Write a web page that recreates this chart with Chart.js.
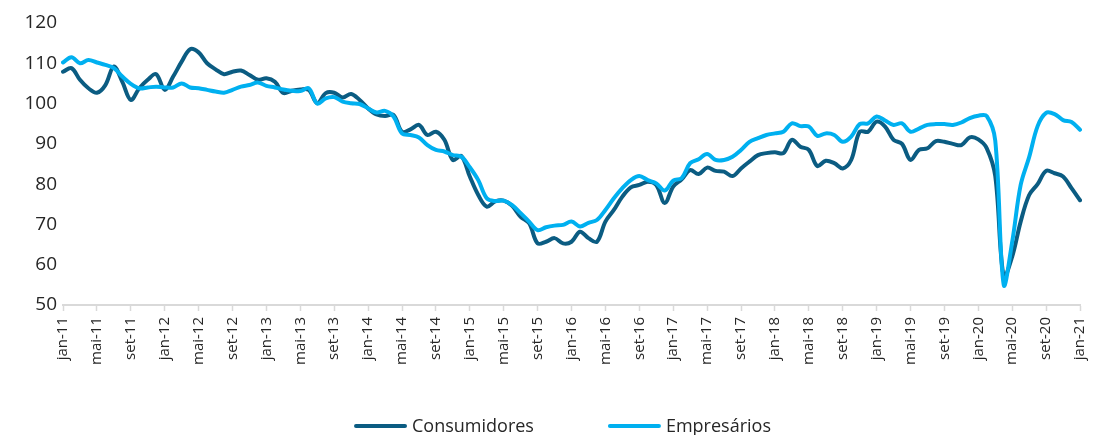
<!DOCTYPE html>
<html>
<head>
<meta charset="utf-8">
<script src="https://cdn.jsdelivr.net/npm/chart.js@4/dist/chart.umd.min.js"></script>
<style>
  html, body { margin: 0; padding: 0; background: #ffffff; }
  #wrap { width: 1093px; height: 435px; position: relative; }
</style>
</head>
<body>
<div id="wrap"><canvas id="c" width="1093" height="435"></canvas></div>
<script>
// ---- data ----
const monthNames = ['jan','fev','mar','abr','mai','jun','jul','ago','set','out','nov','dez'];
const years = ['11','12','13','14','15','16','17','18','19','20','21'];
const categories = [];
years.forEach(y => monthNames.forEach(m => { if (categories.length < 121) categories.push(m + '-' + y); }));

const seriesNames = ['Consumidores', 'Empresários'];

const consumidores = [
  107.9,108.8,105.9,103.8,102.7,104.6,109.2,105.4,100.9,103.8,105.9,107.3,
  103.4,106.7,110.4,113.5,112.7,110.0,108.5,107.3,107.9,108.2,107.1,105.9,
  106.3,105.4,102.6,103.2,103.5,103.4,100.1,102.6,102.7,101.5,102.4,100.9,
  98.8,97.3,96.9,97.2,93.0,93.6,94.7,92.2,93.0,91.0,86.0,87.0,
  81.9,77.3,74.4,75.7,75.9,74.6,71.9,70.3,65.3,65.7,66.6,65.3,
  65.7,68.2,66.6,65.7,70.7,73.6,76.9,79.2,79.8,80.6,79.8,75.3,
  79.4,81.2,83.5,82.5,84.1,83.3,83.1,82.0,83.9,85.6,87.2,87.7,
  87.9,87.7,91.0,89.3,88.5,84.5,85.8,85.2,83.9,86.0,93.0,93.0,
  95.5,94.3,91.0,90.0,86.0,88.5,88.9,90.7,90.5,90.0,89.7,91.6,
  91.1,88.9,82.0,57.0,62.0,70.7,77.3,80.0,83.3,82.7,81.9,79.0,
  76.0
];

const empresarios = [
  110.2,111.5,110.0,110.8,110.2,109.6,108.8,106.7,104.9,103.8,104.0,104.2,
  104.0,104.0,105.0,104.0,103.8,103.4,103.0,102.7,103.4,104.2,104.6,105.2,
  104.4,104.0,103.5,103.2,103.1,103.8,100.0,101.3,101.6,100.5,100.1,99.9,
  98.8,97.8,98.2,96.8,92.6,92.2,91.6,89.7,88.5,88.1,87.2,86.8,
  84.2,81.0,76.5,75.8,75.9,74.8,72.8,70.7,68.6,69.3,69.7,69.9,
  70.7,69.5,70.4,71.1,73.6,76.5,79.0,81.0,82.0,81.0,80.2,78.4,
  80.9,81.5,85.2,86.2,87.5,86.0,86.0,86.8,88.5,90.5,91.4,92.2,
  92.6,93.0,95.1,94.4,94.3,92.0,92.6,92.2,90.5,91.8,94.9,95.1,
  96.8,95.8,94.7,95.1,93.0,93.8,94.7,94.9,94.9,94.7,95.3,96.4,
  97.0,96.9,90.8,55.0,65.7,79.8,86.7,94.4,97.7,97.4,95.9,95.4,
  93.5
];

const yTicks = [50, 60, 70, 80, 90, 100, 110, 120];

// ---- styles ----
const DARK = '#0B5C82';
const LIGHT = '#00B0F0';
const FONT = "'Open Sans', 'Liberation Sans', sans-serif";

const customLegend = {
  id: 'customLegend',
  afterDraw(chart) {
    const ctx = chart.ctx;
    const ds = chart.data.datasets;
    const lineLen = 53, gap = 5, spacing = 74;
    const y = 426;
    ctx.save();
    ctx.font = "18px " + FONT;
    ctx.textBaseline = 'middle';
    ctx.textAlign = 'left';
    const widths = ds.map(d => ctx.measureText(d.label).width);
    let total = 0;
    widths.forEach((w, i) => { total += lineLen + gap + w; if (i < widths.length - 1) total += spacing; });
    const center = (chart.chartArea.left + chart.chartArea.right) / 2 - 9;
    let x = center - total / 2;
    ds.forEach((d, i) => {
      ctx.strokeStyle = d.borderColor;
      ctx.lineWidth = 4;
      ctx.lineCap = 'round';
      ctx.beginPath();
      ctx.moveTo(x + 2, y);
      ctx.lineTo(x + lineLen - 2, y);
      ctx.stroke();
      ctx.fillStyle = '#262626';
      ctx.fillText(d.label, x + lineLen + gap, y + 1);
      x += lineLen + gap + widths[i] + spacing;
    });
    ctx.restore();
  }
};

new Chart(document.getElementById('c'), {
  type: 'line',
  data: {
    labels: categories,
    datasets: [
      { label: seriesNames[0], data: consumidores, borderColor: DARK, backgroundColor: DARK, order: 1 },
      { label: seriesNames[1], data: empresarios, borderColor: LIGHT, backgroundColor: LIGHT, order: 0 }
    ]
  },
  options: {
    responsive: false,
    animation: false,
    devicePixelRatio: 1,
    layout: { padding: { top: 23, right: 13, bottom: 0, left: 0 } },
    elements: {
      point: { radius: 0, hoverRadius: 0 },
      line: { borderWidth: 4, tension: 0.35, borderCapStyle: 'round', borderJoinStyle: 'round', fill: false }
    },
    plugins: {
      legend: { display: false },
      tooltip: { enabled: false }
    },
    scales: {
      x: {
        type: 'category',
        offset: false,
        grid: {
          display: true,
          drawOnChartArea: false,
          drawTicks: true,
          tickLength: 6,
          tickWidth: 1.5,
          tickColor: (c) => (c.index % 4 === 0 ? '#d9d9d9' : 'rgba(0,0,0,0)')
        },
        border: { display: true, color: '#d9d9d9', width: 2 },
        ticks: {
          autoSkip: false,
          maxRotation: 90,
          minRotation: 90,
          padding: 6,
          color: '#262626',
          font: { family: FONT, size: 15 },
          callback: (v, i) => (i % 4 === 0 ? categories[i] : '')
        },
        afterFit: (s) => { s.height = 130; s.paddingRight = 0; s.paddingLeft = 0; }
      },
      y: {
        min: yTicks[0],
        max: yTicks[yTicks.length - 1],
        grid: { display: false, drawTicks: false },
        border: { display: false },
        afterBuildTicks: (s) => { s.ticks = yTicks.map(v => ({ value: v })); },
        ticks: {
          padding: 6,
          color: '#262626',
          font: { family: FONT, size: 19 }
        },
        afterFit: (s) => { s.width = 63; s.paddingTop = 0; s.paddingBottom = 0; }
      }
    }
  },
  plugins: [customLegend]
});
</script>
</body>
</html>
